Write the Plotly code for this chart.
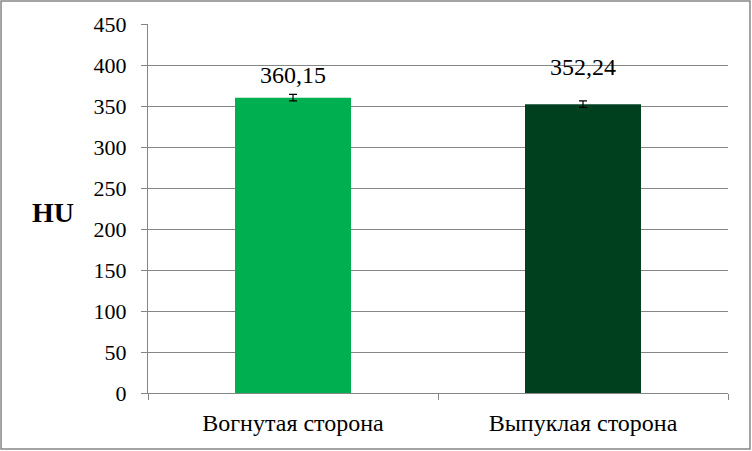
import plotly.graph_objects as go

# Data
categories = ["Вогнутая сторона", "Выпуклая сторона"]
values = [360.15, 352.24]
errors = [4, 4]
labels = ["360,15", "352,24"]
colors = ["#00B050", "#00401F"]

SERIF = "Liberation Serif"

fig = go.Figure()

fig.add_trace(go.Bar(x=categories,
                     y=values,
                     width=0.4,
                     marker=dict(color=colors, line=dict(width=0)),
                     error_y=dict(type="data", array=errors, color="black",
                                  thickness=1.2, width=4),
                     showlegend=False))

# value labels sit above the error bars like in Excel
for cat, val, lab, shift in zip(categories, values, labels, [23, 37]):
    fig.add_annotation(x=cat, y=val, text=lab, showarrow=False,
                       yshift=shift,
                       font=dict(family=SERIF, size=24, color="black"))

fig.add_annotation(text="<b>HU</b>", xref="paper", yref="paper",
                   x=-0.163, y=0.49, xanchor="center", showarrow=False,
                   font=dict(family=SERIF, size=28, color="black"))

# outer chart border
fig.add_shape(type="rect", xref="paper", yref="paper",
              x0=-0.2534, x1=1.0379, y0=-0.1518, y1=1.0623,
              line=dict(color="#868686", width=1.5))

fig.update_layout(width=752, height=451,
                  margin=dict(l=148, r=24, t=24, b=58),
                  plot_bgcolor="white", paper_bgcolor="white",
                  font=dict(family=SERIF, size=24, color="black"),
                  bargap=0.6)

fig.update_yaxes(range=[0, 450], dtick=50, showgrid=True, gridcolor="#868686",
                 gridwidth=1, showline=True, linecolor="#868686", linewidth=1,
                 ticks="outside", ticklen=6, tickcolor="#868686",
                 tickfont=dict(size=22), ticklabelstandoff=10, zeroline=False)
fig.update_xaxes(showline=True, linecolor="#868686", linewidth=1,
                 ticks="outside", tickson="boundaries", ticklen=6,
                 tickcolor="#868686", tickfont=dict(size=24),
                 ticklabelstandoff=8)

fig.write_html("out.html", config={"displayModeBar": False},
               post_script="document.body.style.margin='0';")
